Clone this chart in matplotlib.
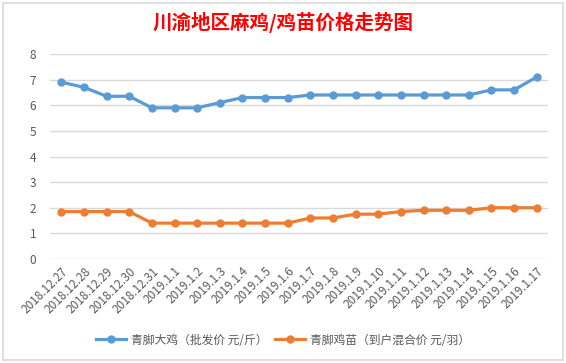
import matplotlib
matplotlib.use('Agg')
import matplotlib.pyplot as plt
from matplotlib.patches import Rectangle

plt.rcParams['font.family'] = ['Noto Sans CJK SC', 'DejaVu Sans']

# dates on the category axis
dates = ['2018.12.27', '2018.12.28', '2018.12.29', '2018.12.30', '2018.12.31',
         '2019.1.1', '2019.1.2', '2019.1.3', '2019.1.4', '2019.1.5', '2019.1.6',
         '2019.1.7', '2019.1.8', '2019.1.9', '2019.1.10', '2019.1.11', '2019.1.12',
         '2019.1.13', '2019.1.14', '2019.1.15', '2019.1.16', '2019.1.17']

# wholesale price of big chickens (yuan / jin)
big_chicken = [6.9, 6.7, 6.35, 6.35, 5.9, 5.9, 5.9, 6.1, 6.3, 6.3, 6.3,
               6.4, 6.4, 6.4, 6.4, 6.4, 6.4, 6.4, 6.4, 6.6, 6.6, 7.1]
# chick price delivered (yuan / bird)
chick = [1.85, 1.85, 1.85, 1.85, 1.4, 1.4, 1.4, 1.4, 1.4, 1.4, 1.4,
         1.6, 1.6, 1.75, 1.75, 1.85, 1.9, 1.9, 1.9, 2.0, 2.0, 2.0]

labels = ['青脚大鸡（批发价 元/斤）', '青脚鸡苗（到户混合价 元/羽）']
title = '川渝地区麻鸡/鸡苗价格走势图'
yticks = [0, 1, 2, 3, 4, 5, 6, 7, 8]

fig = plt.figure(figsize=(5.66, 3.63), dpi=100)
fig.patch.set_facecolor('white')

# chart border
fig.patches.append(Rectangle((3 / 566, 3 / 363), 560 / 566, 357 / 363,
                             transform=fig.transFigure, fill=False,
                             edgecolor='#D9D9D9', linewidth=1.2))

ax = fig.add_axes([50 / 566, 104 / 363, 498 / 566, 205 / 363])
x = list(range(len(dates)))
ax.plot(x, big_chicken, color='#5B9BD5', lw=2.3, marker='o', ms=5, label=labels[0])
ax.plot(x, chick, color='#ED7D31', lw=2.3, marker='o', ms=5, label=labels[1])

ax.set_xlim(-0.5, len(dates) - 0.5)
ax.set_ylim(0, 8)
ax.set_yticks(yticks)
ax.set_xticks(x)
ax.set_xticklabels(dates, rotation=45, ha='right', rotation_mode='anchor')
ax.tick_params(axis='both', length=0, labelsize=8.5, colors='#595959')
ax.tick_params(axis='y', pad=10)
ax.tick_params(axis='x', pad=4)
ax.grid(axis='y', color='#D9D9D9', lw=1)
ax.set_axisbelow(True)
for s in ax.spines.values():
    s.set_visible(False)

fig.text(0.5, 1 - 22 / 363, title, color='red', fontsize=14, fontweight='bold',
         ha='center', va='center')

leg = fig.legend(loc='center', bbox_to_anchor=(0.5, 1 - 340 / 363), ncol=2,
                 frameon=False, fontsize=8.5, handlelength=2.6, handletextpad=0.4,
                 columnspacing=0.6)
for t in leg.get_texts():
    t.set_color('#595959')

fig.savefig('out.png', dpi=100)
